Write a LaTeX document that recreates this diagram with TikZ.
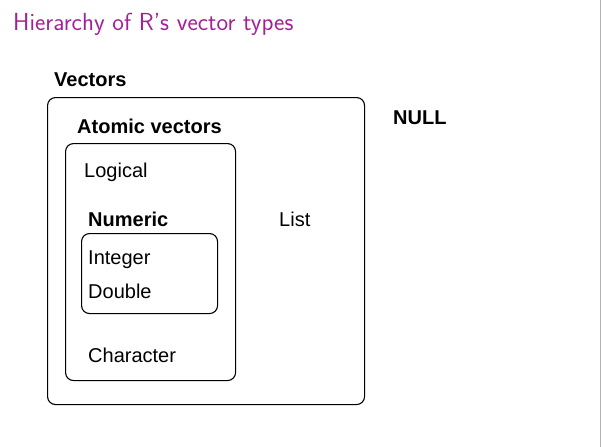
\documentclass[tikz,border=0pt]{standalone}
\usepackage{fontspec}
\setmainfont{Liberation Sans}
\setsansfont{Latin Modern Sans}
\definecolor{titlepurple}{RGB}{163,33,150}
\begin{document}
\begin{tikzpicture}[x=1pt,y=-1pt,
  box/.style={draw=black,line width=1.1pt,rounded corners=8pt},
  lbl/.style={anchor=base west,inner sep=0pt,font=\fontsize{20}{23}\selectfont},
  blbl/.style={lbl,font=\fontsize{20}{23}\selectfont\bfseries}]
\useasboundingbox (0,0) rectangle (601,447);
\draw[gray!60,line width=1pt] (600.5,0) -- (600.5,447);
\node[anchor=base west,inner sep=0pt,text=titlepurple,font=\sffamily\fontsize{24.7}{28}\selectfont] (title) at (13,30) {Hierarchy of R's vector types};
\node[box,minimum width=317pt,minimum height=307pt,anchor=north west] (outer) at (47,97) {};
\node[box,minimum width=170pt,minimum height=237pt,anchor=north west] (atomic) at (65,143) {};
\node[box,minimum width=136pt,minimum height=80pt,anchor=north west] (numeric) at (81,233) {};
\node[blbl] (vectors) at (54,86) {Vectors};
\node[blbl] (atomiclbl) at (77,133) {Atomic vectors};
\node[lbl] (logical) at (84,177) {Logical};
\node[blbl] (numericlbl) at (88,226) {Numeric};
\node[lbl] (integer) at (88,264) {Integer};
\node[lbl] (double) at (88,298) {Double};
\node[lbl] (character) at (88,362) {Character};
\node[lbl] (list) at (279,226) {List};
\node[blbl] (null) at (393,124) {NULL};
\end{tikzpicture}
\end{document}
